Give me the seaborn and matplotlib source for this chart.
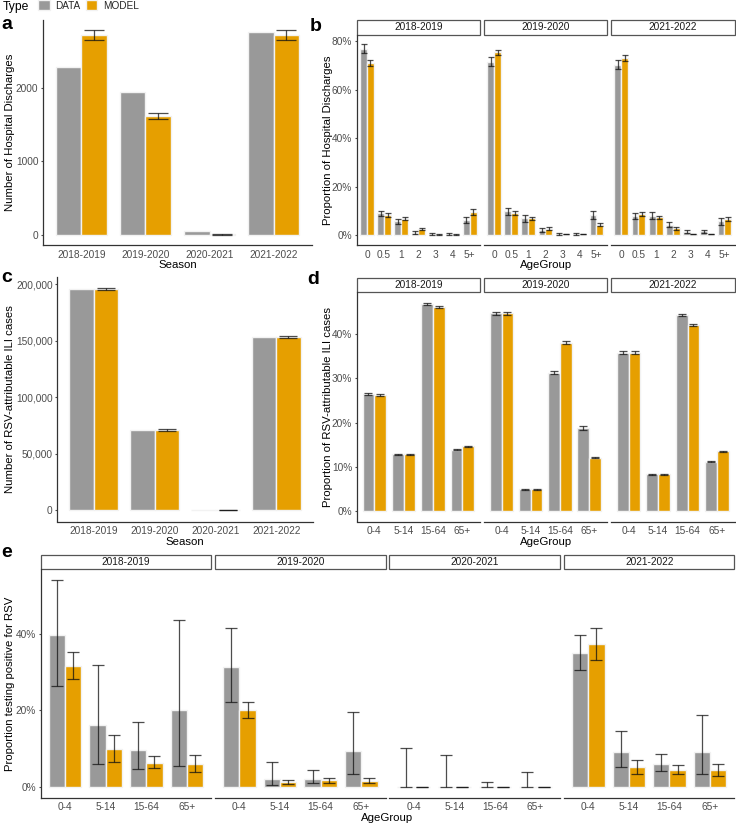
import numpy as np
import pandas as pd
import seaborn as sns
import matplotlib.pyplot as plt
from matplotlib.patches import Patch, Rectangle
from matplotlib.transforms import blended_transform_factory

types = ['DATA', 'MODEL']
palette = {'DATA': '#999999', 'MODEL': '#E69F00'}
seasons = ['2018-2019', '2019-2020', '2020-2021', '2021-2022']
facet_seasons = ['2018-2019', '2019-2020', '2021-2022']
hosp_ages = ['0', '0.5', '1', '2', '3', '4', '5+']
ili_ages = ['0-4', '5-14', '15-64', '65+']

# a: hospital discharges by season
hosp_data = [2286, 1946, 50, 2752]
hosp_model = [2712, 1615, 4, 2712]
hosp_model_lo = [2648, 1574, 0, 2648]
hosp_model_hi = [2780, 1656, 8, 2780]

# b: proportion of discharges by age (%), one row per facet season
b_data = [[76.8, 9.1, 5.8, 1.2, 0.55, 0.5, 6.2],
          [71.6, 10.0, 7.0, 2.3, 0.6, 0.5, 8.4],
          [70.2, 8.0, 8.1, 4.5, 1.6, 1.8, 5.8]]
b_data_lo = [[75.2, 8.0, 4.7, 0.7, 0.3, 0.3, 5.1],
             [69.7, 8.5, 5.6, 1.4, 0.35, 0.25, 6.9],
             [68.5, 6.6, 6.7, 3.4, 0.8, 1.1, 4.5]]
b_data_hi = [[78.8, 10.2, 6.9, 1.9, 1.0, 0.8, 7.4],
             [73.7, 11.5, 8.4, 3.2, 0.9, 0.8, 9.9],
             [72.2, 9.2, 9.5, 5.5, 2.2, 2.3, 7.0]]
b_model = [[71.1, 8.5, 6.9, 2.7, 0.45, 0.5, 9.6],
           [75.5, 9.3, 7.0, 2.7, 0.55, 0.6, 4.5],
           [73.1, 8.7, 7.4, 2.9, 0.6, 0.6, 6.7]]
b_model_lo = [[70.0, 7.7, 6.2, 2.2, 0.3, 0.35, 8.5],
              [74.4, 8.4, 6.2, 2.1, 0.4, 0.45, 3.8],
              [71.9, 7.9, 6.6, 2.3, 0.45, 0.45, 5.9]]
b_model_hi = [[72.2, 9.3, 7.7, 3.2, 0.65, 0.7, 10.7],
              [76.4, 10.1, 7.7, 3.3, 0.7, 0.75, 5.2],
              [74.2, 9.5, 8.1, 3.4, 0.75, 0.75, 7.6]]

# c: RSV-attributable ILI cases by season
ili_data = [195900, 71000, 0, 153200]
ili_model = [195600, 71000, 100, 153200]
ili_model_lo = [194400, 70100, 0, 152000]
ili_model_hi = [196500, 71900, 250, 154000]

# d: proportion of ILI cases by age (%)
d_data = [[26.4, 12.86, 46.8, 13.9],
          [44.7, 4.96, 31.3, 18.8],
          [35.8, 8.35, 44.3, 11.2]]
d_data_lo = [[26.2, 12.75, 46.5, 13.7],
             [44.3, 4.86, 30.9, 18.4],
             [35.5, 8.25, 44.0, 11.1]]
d_data_hi = [[26.6, 12.97, 47.1, 14.1],
             [45.1, 5.06, 31.7, 19.2],
             [36.1, 8.45, 44.6, 11.3]]
d_model = [[26.2, 12.86, 46.2, 14.6],
           [44.7, 4.96, 38.1, 12.1],
           [35.8, 8.35, 42.0, 13.5]]
d_model_lo = [[26.0, 12.75, 45.95, 14.5],
              [44.3, 4.86, 37.7, 12.0],
              [35.5, 8.25, 41.75, 13.4]]
d_model_hi = [[26.4, 12.97, 46.45, 14.7],
              [45.1, 5.06, 38.5, 12.2],
              [36.1, 8.45, 42.25, 13.6]]

# e: proportion testing positive (%), one row per season
e_data = [[39.6, 16.1, 9.6, 20.0],
          [31.2, 2.2, 2.25, 9.4],
          [0, 0, 0, 0],
          [35.0, 9.1, 6.1, 9.1]]
e_data_lo = [[26.4, 6.1, 4.7, 5.6],
             [22.3, 0.5, 1.0, 3.5],
             [0, 0, 0, 0],
             [30.5, 5.2, 4.2, 3.4]]
e_data_hi = [[54.0, 31.9, 17.1, 43.6],
             [41.5, 6.5, 4.5, 19.6],
             [10.3, 8.3, 1.3, 3.9],
             [39.7, 14.6, 8.7, 18.7]]
e_model = [[31.6, 9.9, 6.4, 6.1],
           [20.1, 1.3, 1.9, 1.7],
           [0, 0, 0, 0],
           [37.2, 5.2, 4.6, 4.4]]
e_model_lo = [[28.2, 6.6, 4.9, 3.9],
              [17.9, 0.8, 1.2, 1.0],
              [0, 0, 0, 0],
              [33.2, 3.5, 3.5, 2.9]]
e_model_hi = [[35.2, 13.5, 8.2, 8.5],
              [22.3, 1.8, 2.3, 2.5],
              [0, 0, 0, 0],
              [41.4, 7.2, 5.9, 6.1]]

sns.set_theme(style='white')
plt.rcParams['font.family'] = ['Liberation Sans', 'DejaVu Sans']

W, H = 736, 825
fig = plt.figure(figsize=(W / 100, H / 100), dpi=100)
TICK_C = '#4D4D4D'
AXIS_C = '#333333'


def add_ax(x0, y0, x1, y1):
    return fig.add_axes([x0 / W, 1 - y1 / H, (x1 - x0) / W, (y1 - y0) / H])


def frame(cats, data, data_lo, data_hi, model, model_lo, model_hi):
    n = len(cats)
    return pd.DataFrame({
        'x': list(cats) * 2,
        'value': list(data) + list(model),
        'lo': list(data_lo) + list(model_lo),
        'hi': list(data_hi) + list(model_hi),
        'Type': ['DATA'] * n + ['MODEL'] * n,
    })


def draw(ax, df, order, ylim, first=True):
    sns.barplot(data=df, x='x', y='value', hue='Type', order=order, hue_order=types,
                palette=palette, width=0.8, errorbar=None, edgecolor='#F2F2F2',
                linewidth=1.0, saturation=1, legend=False, ax=ax)
    n = len(order)
    ax.set_xlim(-0.6, n - 0.4)
    ax.set_ylim(*ylim)
    unit_px = ax.get_position().width * W / (n + 0.2)
    cap = 0.15 * unit_px * 0.72
    for cont, typ in zip(ax.containers, types):
        sub = df[df['Type'] == typ].set_index('x').reindex(order)
        xs = np.array([b.get_x() + b.get_width() / 2 for b in cont])
        ok = sub['lo'].notna().values
        if not ok.any():
            continue
        v = sub['value'].values[ok]
        ax.errorbar(xs[ok], v, yerr=[v - sub['lo'].values[ok], sub['hi'].values[ok] - v],
                    fmt='none', ecolor='#111111', alpha=0.75, elinewidth=0.9,
                    capsize=cap, capthick=0.9)
    ax.set_xlabel('')
    ax.set_ylabel('')
    sns.despine(ax=ax, left=not first)
    for s in ['left', 'bottom']:
        ax.spines[s].set_color(AXIS_C)
        ax.spines[s].set_linewidth(0.9)
    ax.tick_params(axis='both', length=1.8, width=0.8, color=TICK_C, labelcolor=TICK_C,
                   labelsize=7.3, pad=1.5, left=first, labelleft=first)


def ylims(frames):
    lo = min(min(f['value'].min(), f['lo'].min()) for f in frames)
    lo = min(lo, 0)
    hi = max(max(f['value'].max(), f['hi'].max()) for f in frames)
    pad = 0.05 * (hi - lo)
    return lo - pad, hi + pad


def strip(ax, label):
    h = 14.5 / (ax.get_position().height * H)
    ax.add_patch(Rectangle((0, 1.0), 1, h, transform=ax.transAxes, clip_on=False,
                           facecolor='white', edgecolor='#555555', lw=0.9))
    ax.text(0.5, 1.0 + h / 2, label, transform=ax.transAxes, ha='center', va='center',
            fontsize=7.3, color='#1A1A1A')


def ytitle(ax, text, x_px):
    # x_px is the right edge of the rotated title
    ax.set_ylabel(text, fontsize=8.2, color='black')
    ax.yaxis.set_label_coords(x_px / W, 0.5,
                              transform=blended_transform_factory(fig.transFigure, ax.transAxes))


def xtitle(text, x_px, y_px):
    fig.text(x_px / W, 1 - y_px / H, text, ha='center', va='baseline', fontsize=8.2, color='black')


def letter(ch, x_px, y_px):
    fig.text(x_px / W, 1 - y_px / H, ch, ha='left', va='baseline', fontsize=14,
             fontweight='bold', color='black')


pct = lambda v, p: f'{v:.0f}%'

# panel a
df_a = frame(seasons, hosp_data, [np.nan] * 4, [np.nan] * 4, hosp_model, hosp_model_lo, hosp_model_hi)
ax_a = add_ax(43, 20, 312, 245)
draw(ax_a, df_a, seasons, ylims([df_a]))
ax_a.set_yticks([0, 1000, 2000])
ytitle(ax_a, 'Number of Hospital Discharges', 15.5)
xtitle('Season', 177.5, 268)

# panel b
b_x = [(356.7, 480), (484, 606.7), (611, 734.7)]
df_b = [frame(hosp_ages, b_data[i], b_data_lo[i], b_data_hi[i], b_model[i], b_model_lo[i], b_model_hi[i])
        for i in range(3)]
lim_b = ylims(df_b)
for i, (x0, x1) in enumerate(b_x):
    ax = add_ax(x0, 34.7, x1, 245)
    draw(ax, df_b[i], hosp_ages, lim_b, first=(i == 0))
    ax.set_yticks([0, 20, 40, 60, 80])
    ax.yaxis.set_major_formatter(pct)
    strip(ax, facet_seasons[i])
    if i == 0:
        ytitle(ax, 'Proportion of Hospital Discharges', 333)
xtitle('AgeGroup', 545.7, 268)

# panel c
df_c = frame(seasons, ili_data, [np.nan] * 4, [np.nan] * 4, ili_model, ili_model_lo, ili_model_hi)
ax_c = add_ax(57.3, 277, 312.7, 521.5)
draw(ax_c, df_c, seasons, ylims([df_c]))
ax_c.set_yticks([0, 50000, 100000, 150000, 200000])
ax_c.yaxis.set_major_formatter(lambda v, p: f'{v:,.0f}')
ytitle(ax_c, 'Number of RSV-attributable ILI cases', 15)
xtitle('Season', 185, 545)

# panel d
df_d = [frame(ili_ages, d_data[i], d_data_lo[i], d_data_hi[i], d_model[i], d_model_lo[i], d_model_hi[i])
        for i in range(3)]
lim_d = ylims(df_d)
for i, (x0, x1) in enumerate(b_x):
    ax = add_ax(x0, 292.3, x1, 521.5)
    draw(ax, df_d[i], ili_ages, lim_d, first=(i == 0))
    ax.set_yticks([0, 10, 20, 30, 40])
    ax.yaxis.set_major_formatter(pct)
    strip(ax, facet_seasons[i])
    if i == 0:
        ytitle(ax, 'Proportion of RSV-attributable ILI cases', 333)
xtitle('AgeGroup', 545.7, 545)

# panel e
e_x = [(40.7, 211.3), (215, 385.7), (389.3, 560), (564, 734.3)]
df_e = [frame(ili_ages, e_data[i], e_data_lo[i], e_data_hi[i], e_model[i], e_model_lo[i], e_model_hi[i])
        for i in range(4)]
lim_e = ylims(df_e)
for i, (x0, x1) in enumerate(e_x):
    ax = add_ax(x0, 569.3, x1, 797.7)
    draw(ax, df_e[i], ili_ages, lim_e, first=(i == 0))
    ax.set_yticks([0, 20, 40])
    ax.yaxis.set_major_formatter(pct)
    strip(ax, seasons[i])
    if i == 0:
        ytitle(ax, 'Proportion testing positive for RSV', 15)
xtitle('AgeGroup', 387.5, 821)

# panel letters
letter('a', 1.5, 29)
letter('b', 310, 30.7)
letter('c', 1.5, 281.7)
letter('d', 307, 284)
letter('e', 1.5, 556.7)

# legend
fig.text(3 / W, 1 - 7 / H, 'Type', ha='left', va='center', fontsize=8.7, color='black')
handles = [Patch(facecolor=palette[t], edgecolor='#F2F2F2', label=t) for t in types]
fig.legend(handles=handles, loc='center left', bbox_to_anchor=(38 / W, 1 - 5.5 / H), ncol=2,
           frameon=False, fontsize=7.2, handlelength=1.15, handleheight=1.15,
           handletextpad=0.55, columnspacing=0.55, borderpad=0, borderaxespad=0)

fig.savefig('out.png', dpi=100)
